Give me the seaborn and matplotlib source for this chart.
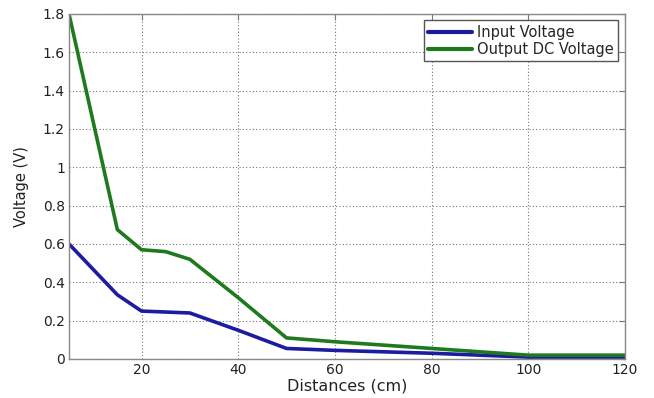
import numpy as np
import pandas as pd
import matplotlib
matplotlib.use("Agg")
import matplotlib.pyplot as plt
import seaborn as sns

# data
distances = [5, 15, 20, 25, 30, 40, 50, 60, 80, 100, 120]
input_voltage = [0.60, 0.335, 0.25, 0.245, 0.24, 0.15, 0.055, 0.045, 0.03, 0.01, 0.01]
output_voltage = [1.80, 0.675, 0.57, 0.56, 0.52, 0.32, 0.11, 0.09, 0.055, 0.02, 0.02]

y_ticks = [0, 0.2, 0.4, 0.6, 0.8, 1.0, 1.2, 1.4, 1.6, 1.8]
y_labels = ["0", "0.2", "0.4", "0.6", "0.8", "1", "1.2", "1.4", "1.6", "1.8"]
x_ticks = [20, 40, 60, 80, 100, 120]

df = pd.DataFrame({
    "Distances (cm)": distances * 2,
    "Voltage (V)": input_voltage + output_voltage,
    "series": ["Input Voltage"] * len(distances) + ["Output DC Voltage"] * len(distances),
})

sns.set_style("white")
plt.rcParams["font.family"] = ["DejaVu Sans"]

fig = plt.figure(figsize=(6.54, 3.98), dpi=100)
ax = fig.add_axes([0.1055, 0.098, 0.85, 0.867])

sns.lineplot(
    data=df,
    x="Distances (cm)",
    y="Voltage (V)",
    hue="series",
    palette=["#1c1ca0", "#1f7a1f"],
    linewidth=2.6,
    ax=ax,
)

ax.set_xlim(5, 120)
ax.set_ylim(0, 1.8)
ax.set_xticks(x_ticks)
ax.set_yticks(y_ticks)
ax.set_yticklabels(y_labels)
ax.tick_params(direction="in", top=True, right=True, length=4, labelsize=10,
               color="#777777", labelcolor="#222222", pad=3)

ax.grid(True, linestyle=(0, (1, 2)), color="#777777", linewidth=0.8)
for s in ax.spines.values():
    s.set_color("#888888")
    s.set_linewidth(1.0)

ax.set_xlabel("Distances (cm)", fontsize=11.5, color="#222222", labelpad=1)
ax.set_ylabel("Voltage (V)", fontsize=10.5, color="#222222", labelpad=10)

leg = ax.legend(loc="upper right", fontsize=10.5, fancybox=False, framealpha=1,
                edgecolor="#555555", handlelength=3.0, borderpad=0.3,
                labelspacing=0.15, handletextpad=0.35, borderaxespad=0.45)
leg.get_frame().set_linewidth(1.0)
for line in leg.get_lines():
    line.set_linewidth(3)

fig.savefig("out.png", dpi=100)
